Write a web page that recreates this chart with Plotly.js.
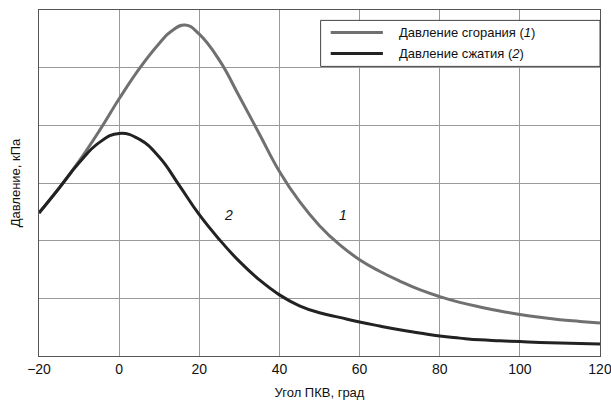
<!DOCTYPE html>
<html>
<head>
<meta charset="utf-8">
<script src="https://cdn.plot.ly/plotly-3.0.1.min.js"></script>
<style>
  html, body { margin: 0; padding: 0; background: #fff; }
  #chart { width: 611px; height: 409px; }
</style>
</head>
<body>
<div id="chart"></div>
<script>
// Crank angle (degrees) and cylinder pressure (relative units)
const angleComb = [-20, -15, -10, -5, 0, 5, 10, 13, 16.5, 20, 25, 30, 35, 40, 45, 50, 55, 60, 65, 70, 75, 80, 85, 90, 95, 100, 105, 110, 115, 120];
const pressureComb = [2.48, 2.91, 3.38, 3.90, 4.46, 4.98, 5.42, 5.63, 5.74, 5.58, 5.13, 4.50, 3.85, 3.20, 2.68, 2.26, 1.93, 1.67, 1.47, 1.30, 1.15, 1.03, 0.93, 0.85, 0.78, 0.72, 0.67, 0.63, 0.60, 0.57];
const angleComp = [-20, -15, -10, -5, 0, 5, 10, 15, 20, 25, 30, 35, 40, 45, 50, 55, 60, 65, 70, 75, 80, 85, 90, 95, 100, 105, 110, 115, 120];
const pressureComp = [2.48, 2.91, 3.35, 3.70, 3.86, 3.76, 3.45, 2.96, 2.45, 2.02, 1.64, 1.32, 1.06, 0.87, 0.75, 0.67, 0.59, 0.52, 0.455, 0.40, 0.345, 0.31, 0.28, 0.265, 0.25, 0.235, 0.225, 0.215, 0.21];

const seriesNames = ['Давление сгорания (<i>1</i>)', 'Давление сжатия (<i>2</i>)'];
const seriesColors = ['#707070', '#222222'];
const curveLabels = ['<i>1</i>', '<i>2</i>'];
const curveLabelX = [55.9, 27.2];
const curveLabelY = [2.44, 2.44];

const xTicks = [-20, 0, 20, 40, 60, 80, 100, 120];
const yTicks = [0, 1, 2, 3, 4, 5, 6];

const FONT = '"Liberation Sans", Arial, Helvetica, sans-serif';

const traces = [
  { x: angleComb, y: pressureComb, name: seriesNames[0], mode: 'lines',
    line: { color: seriesColors[0], width: 3, shape: 'spline', smoothing: 1.3 } },
  { x: angleComp, y: pressureComp, name: seriesNames[1], mode: 'lines',
    line: { color: seriesColors[1], width: 3, shape: 'spline', smoothing: 1.3 } }
];

// Legend box drawn in paper coordinates, top-right of the plot area
const legX0 = 0.502, legX1 = 1.0, legY0 = 0.837, legY1 = 0.97;
const rowY = [0.935, 0.874];
const shapes = [
  { type: 'rect', xref: 'paper', yref: 'paper', x0: legX0, x1: legX1, y0: legY0, y1: legY1,
    line: { color: '#444', width: 1 }, fillcolor: '#fff', layer: 'above' }
];
const annotations = [];
seriesNames.forEach((name, i) => {
  shapes.push({ type: 'line', xref: 'paper', yref: 'paper', x0: 0.52, x1: 0.613, y0: rowY[i], y1: rowY[i],
    line: { color: seriesColors[i], width: 3 }, layer: 'above' });
  annotations.push({ xref: 'paper', yref: 'paper', x: 0.638, y: rowY[i], xanchor: 'left', yanchor: 'middle',
    text: name, showarrow: false, font: { family: FONT, size: 13, color: '#111' } });
});
curveLabels.forEach((t, i) => {
  annotations.push({ x: curveLabelX[i], y: curveLabelY[i], text: t, showarrow: false,
    font: { family: FONT, size: 14, color: '#111' } });
});

const layout = {
  width: 611, height: 409,
  margin: { l: 39, r: 11, t: 10, b: 53 },
  paper_bgcolor: '#fff', plot_bgcolor: '#fff',
  showlegend: false,
  font: { family: FONT, size: 13, color: '#111' },
  xaxis: {
    range: [-20, 120], tickvals: xTicks, ticktext: xTicks.map(v => v < 0 ? '\u2212' + Math.abs(v) : String(v)),
    ticklabeloverflow: 'allow',
    showgrid: true, gridcolor: '#9a9a9a', gridwidth: 1,
    showline: true, linecolor: '#555', linewidth: 1, mirror: true,
    zeroline: false, ticks: '', tickfont: { family: FONT, size: 14, color: '#111' },
    title: { text: 'Угол ПКВ, град', font: { family: FONT, size: 13, color: '#111' }, standoff: 12 }
  },
  yaxis: {
    range: [0, 6], tickvals: yTicks, showticklabels: false,
    showgrid: true, gridcolor: '#9a9a9a', gridwidth: 1,
    showline: true, linecolor: '#555', linewidth: 1, mirror: true,
    zeroline: false, ticks: '',
    title: { text: 'Давление, кПа', font: { family: FONT, size: 13, color: '#111' }, standoff: 14 }
  },
  shapes: shapes,
  annotations: annotations
};

Plotly.newPlot('chart', traces, layout, { displayModeBar: false, staticPlot: true });
</script>
</body>
</html>
